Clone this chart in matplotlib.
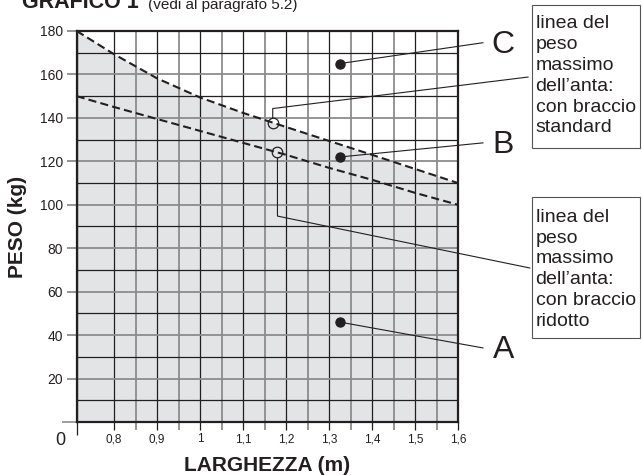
import matplotlib.pyplot as plt
import numpy as np
from matplotlib.patches import Rectangle

plt.rcParams['font.family'] = ['Liberation Sans', 'DejaVu Sans']

# dati
larghezza = [0.713, 0.8, 0.9, 1.0, 1.1, 1.2, 1.3, 1.4, 1.5, 1.6]
peso_standard = [180, 169.3, 158.2, 149.4, 142.3, 135.8, 129.4, 123, 116.5, 110]
peso_ridotto = [150, 145, 139.5, 134, 128.5, 123, 117, 111.5, 105.5, 100]

x_ticks = [0.8, 0.9, 1.0, 1.1, 1.2, 1.3, 1.4, 1.5, 1.6]
x_labels = ['0,8', '0,9', '1', '1,1', '1,2', '1,3', '1,4', '1,5', '1,6']
x_minor = [0.85, 0.95, 1.05, 1.15, 1.25, 1.35, 1.45, 1.55]
y_ticks = [0, 20, 40, 60, 80, 100, 120, 140, 160, 180]
y_labels = ['', '20', '40', '60', '80', '100', '120', '140', '160', '180']
y_minor = [10, 30, 50, 70, 90, 110, 130, 150, 170]

# punti di riferimento (cerchi sulle linee, punti nelle zone)
x_cerchio_standard = 1.169
x_cerchio_ridotto = 1.180
zone = ['C', 'B', 'A']
zone_x = 1.325
zone_y = [165, 122, 46]
lettere_y = [173.6, 127.5, 33.1]
box_standard = ['linea del', 'peso', 'massimo', 'dell\u2019anta:', 'con braccio', 'standard']
box_ridotto = ['linea del', 'peso', 'massimo', 'dell\u2019anta:', 'con braccio', 'ridotto']

W, H = 642, 475
INK = '#231f20'
GREY = '#8c8c8c'

fig = plt.figure(figsize=(W / 100, H / 100), dpi=100)
ax = fig.add_axes([76.7 / W, 1 - 422 / H, 381.3 / W, 391 / H])
ax.set_xlim(larghezza[0], 1.6)
ax.set_ylim(0, 180)

ax.fill_between(larghezza, 0, peso_standard, color='#e3e4e6', lw=0, zorder=1)
ax.plot(larghezza, peso_standard, color=INK, lw=1.5, dashes=(3.9, 2.0), zorder=3)
ax.plot(larghezza, peso_ridotto, color=INK, lw=1.5, dashes=(3.9, 2.0), zorder=3)

# griglia
ax.set_xticks([larghezza[0]] + x_ticks)
ax.set_xticklabels([''] + x_labels, fontsize=8.5, color=INK)
ax.set_xticks(x_minor, minor=True)
ax.set_yticks(y_ticks)
ax.set_yticklabels(y_labels, fontsize=10, color=INK)
ax.set_yticks(y_minor, minor=True)
ax.grid(which='major', axis='x', color=INK, lw=0.9, zorder=2)
ax.grid(which='minor', axis='x', color=GREY, lw=1.3, zorder=2)
ax.grid(which='major', axis='y', color=GREY, lw=1.3, zorder=2)
ax.grid(which='minor', axis='y', color=INK, lw=0.9, zorder=2)

ax.tick_params(axis='x', which='major', length=6, width=0.9, color=INK, pad=2)
ax.tick_params(axis='x', which='minor', length=6, width=1.3, color=GREY)
ax.tick_params(axis='y', which='major', length=7.2, width=1.3, color=GREY, pad=2.5)
ax.tick_params(axis='y', which='minor', length=0)
t0 = ax.xaxis.get_major_ticks()[0]
t0.tick1line.set_markersize(9.5)
y0 = ax.yaxis.get_major_ticks()[0]
y0.tick1line.set_markersize(11)
y0.tick1line.set_color(INK)
y0.tick1line.set_markeredgewidth(1.2)

for s in ax.spines.values():
    s.set_linewidth(1.6)
    s.set_color(INK)

ax.text(-0.043, -0.047, '0', transform=ax.transAxes, fontsize=13, color=INK,
        ha='center', va='center')

ax.set_xlabel('LARGHEZZA (m)', fontsize=15, fontweight='bold', color=INK)
ax.xaxis.label.set_va('center')
ax.xaxis.set_label_coords(0.5, -0.11)
ax.set_ylabel('PESO (kg)', fontsize=15, fontweight='bold', color=INK)
ax.yaxis.label.set_va('center')
ax.yaxis.set_label_coords(-0.154, 0.5)

# cerchi sulle linee e richiami
ys = np.interp(x_cerchio_standard, larghezza, peso_standard)
yr = np.interp(x_cerchio_ridotto, larghezza, peso_ridotto)
ax.plot([x_cerchio_standard], [ys], 'o', ms=7.6, mfc='none', mec=INK, mew=0.9, zorder=4)
ax.plot([x_cerchio_ridotto], [yr], 'o', ms=7.6, mfc='none', mec=INK, mew=0.9, zorder=4)
ax.plot([x_cerchio_standard, x_cerchio_standard, 1.763], [ys + 2.4, 144.3, 158.8],
        color=INK, lw=0.8, clip_on=False, zorder=4)
ax.plot([x_cerchio_ridotto, x_cerchio_ridotto, 1.767], [yr - 2.4, 94.8, 70.9],
        color=INK, lw=0.8, clip_on=False, zorder=4)

for nome, zy, ly in zip(zone, zone_y, lettere_y):
    ax.plot([zone_x], [zy], 'o', ms=6.5, color=INK, zorder=4)
    ax.plot([zone_x, 1.658], [zy, ly + 1.0], color=INK, lw=0.8, clip_on=False, zorder=4)
    ax.text(1.705, ly, nome, fontsize=23, color=INK, ha='center', va='center')

# riquadri di testo
for righe, top, bottom, base in [(box_standard, 5, 148, 28.3), (box_ridotto, 197, 338, 221.7)]:
    fig.patches.append(Rectangle((532 / W, 1 - bottom / H), 108 / W, (bottom - top) / H,
                                 transform=fig.transFigure, fill=False,
                                 edgecolor='#555555', lw=0.8))
    for i, r in enumerate(righe):
        fig.text(535.5 / W, 1 - (base + i * 20.8) / H, r, fontsize=14,
                 color=INK, va='baseline')

# titolo (tagliato in alto come nell'originale)
fig.text(22 / W, 1 - 8.5 / H, 'GRAFICO 1', fontsize=15.5, fontweight='bold',
         color=INK, va='baseline')
fig.text(148 / W, 1 - 8.5 / H, '(vedi al paragrafo 5.2)', fontsize=11,
         color=INK, va='baseline')

fig.savefig('out.png', dpi=100)
